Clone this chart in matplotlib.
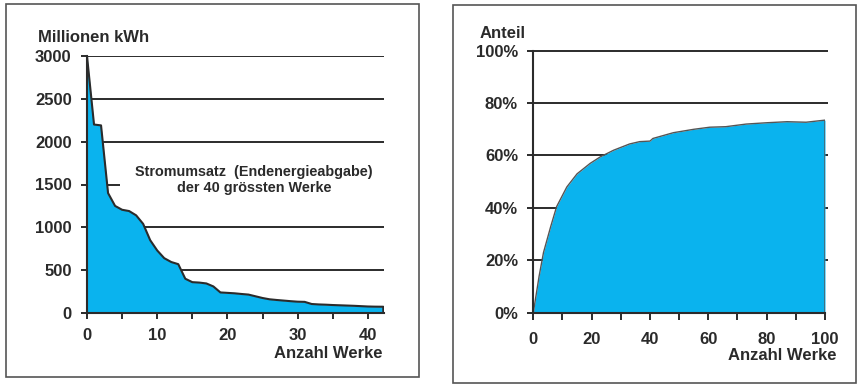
import matplotlib
matplotlib.use("Agg")
import matplotlib.pyplot as plt
from matplotlib.patches import Rectangle

plt.rcParams['font.family'] = ['Liberation Sans', 'DejaVu Sans']
plt.rcParams['font.weight'] = 'bold'

# ---- Data: left chart (Stromumsatz der grössten Werke, Millionen kWh)
werke_x = [0, 1, 2, 3, 4, 5, 6, 7, 8, 9, 10, 11, 12, 13, 14, 15, 16, 17, 18, 19,
           20, 21, 22, 23, 24, 25, 26, 27, 28, 29, 30, 31, 32, 33, 34, 35, 36, 37,
           38, 39, 40, 41, 42.2]
umsatz = [3000, 2200, 2190, 1400, 1250, 1205, 1190, 1140, 1040, 850, 730, 640, 595,
          570, 400, 360, 355, 345, 310, 240, 235, 230, 222, 215, 195, 175, 160, 152,
          145, 138, 132, 130, 105, 100, 97, 93, 90, 87, 84, 80, 76, 74, 73]
left_yticks = [0, 500, 1000, 1500, 2000, 2500, 3000]
left_xticks = [0, 10, 20, 30, 40]

# ---- Data: right chart (kumulierter Anteil)
anteil_x = [0, 2, 3.5, 6, 8, 11.5, 15, 19.5, 23, 27.5, 33, 36.5, 40, 41, 48, 55,
            60.5, 66, 73, 80, 87, 93.5, 100]
anteil_y = [0, 14, 23, 33, 40.5, 48, 53, 57, 59.5, 62, 64.4, 65.3, 65.5, 66.5, 68.7,
            70, 70.8, 71, 72, 72.5, 72.9, 72.7, 73.5]
right_yticks = [0, 20, 40, 60, 80, 100]
right_yticklabels = ['0%', '20%', '40%', '60%', '80%', '100%']
right_xticks = [0, 20, 40, 60, 80, 100]

W, H = 859, 385
FILL = '#0ab3ee'
DARK = '#2b2b2b'
TXT = '#2a2a2a'
FS = 12

fig = plt.figure(figsize=(W / 100, H / 100), dpi=100)


def px_axes(x0, x1, ytop, ybot):
    return fig.add_axes([x0 / W, 1 - ybot / H, (x1 - x0) / W, (ybot - ytop) / H])


# frames
for (x0, y0, x1, y1) in [(6, 4, 419, 377), (453, 5, 856, 383)]:
    fig.patches.append(Rectangle((x0 / W, 1 - y1 / H), (x1 - x0) / W, (y1 - y0) / H,
                                 transform=fig.transFigure, fill=False,
                                 edgecolor='#555555', linewidth=1.2))

# ---------------- left chart
ax = px_axes(87, 384, 56, 313)
ax.set_xlim(0, 42.3)
ax.set_ylim(0, 3000)
for v in left_yticks[1:]:
    xmax = 4.7 if v == 1500 else 42.3
    ax.hlines(v, 0, xmax, color=DARK, lw=1.4, zorder=1)
ax.fill_between(werke_x, umsatz, 0, color=FILL, lw=0, zorder=2)
ax.plot(werke_x + [werke_x[-1]], umsatz + [0], color=DARK, lw=1.5, zorder=3)
for s in ['top', 'right']:
    ax.spines[s].set_visible(False)
for s in ['left', 'bottom']:
    ax.spines[s].set_color(DARK)
    ax.spines[s].set_linewidth(1.5)
    ax.spines[s].set_zorder(4)
ax.set_yticks(left_yticks)
ax.set_yticklabels([str(v) for v in left_yticks])
ax.set_xticks(left_xticks)
ax.set_xticks([5, 15, 25, 35], minor=True)
ax.tick_params(axis='y', direction='out', length=4, width=1.4, color=DARK, pad=7,
               labelsize=FS, labelcolor=TXT)
ax.tick_params(axis='x', which='both', direction='inout', length=8, width=1.4,
               color=DARK, pad=7, labelsize=FS, labelcolor=TXT)
ax.set_facecolor('none')
fig.text(38 / W, 1 - 38 / H, 'Millionen kWh', fontsize=FS, color=TXT,
         ha='left', va='center')
fig.text(382 / W, 1 - 353 / H, 'Anzahl Werke', fontsize=FS, color=TXT,
         ha='right', va='center')
fig.text(254 / W, 1 - 180 / H, 'Stromumsatz  (Endenergieabgabe)\nder 40 grössten Werke',
         fontsize=10.4, color=TXT, ha='center', va='center', linespacing=1.2)

# ---------------- right chart
ax2 = px_axes(533.3, 825, 50.7, 312.7)
ax2.set_xlim(0, 100)
ax2.set_ylim(0, 100)
for v in right_yticks[1:]:
    ax2.hlines(v, 0, 101, color=DARK, lw=1.4, zorder=1, clip_on=False)
ax2.fill_between(anteil_x, anteil_y, 0, color=FILL, lw=0, zorder=2)
ax2.plot(anteil_x + [anteil_x[-1]], anteil_y + [0], color='#555555', lw=1.0, zorder=3)
for s in ['top', 'right']:
    ax2.spines[s].set_visible(False)
for s in ['left', 'bottom']:
    ax2.spines[s].set_color(DARK)
    ax2.spines[s].set_linewidth(1.5)
    ax2.spines[s].set_zorder(4)
ax2.set_yticks(right_yticks)
ax2.set_yticklabels(right_yticklabels)
ax2.set_xticks(right_xticks)
ax2.set_xticks([10, 30, 50, 70, 90], minor=True)
ax2.tick_params(axis='y', direction='out', length=4, width=1.4, color=DARK, pad=7,
                labelsize=FS, labelcolor=TXT)
ax2.tick_params(axis='x', which='both', direction='out', length=5, width=1.4,
                color=DARK, pad=9, labelsize=FS, labelcolor=TXT)
ax2.set_facecolor('none')
fig.text(480 / W, 1 - 33 / H, 'Anteil', fontsize=FS, color=TXT, ha='left', va='center')
fig.text(837 / W, 1 - 356 / H, 'Anzahl Werke', fontsize=FS, color=TXT,
         ha='right', va='center')

fig.savefig('out.png', dpi=100)
